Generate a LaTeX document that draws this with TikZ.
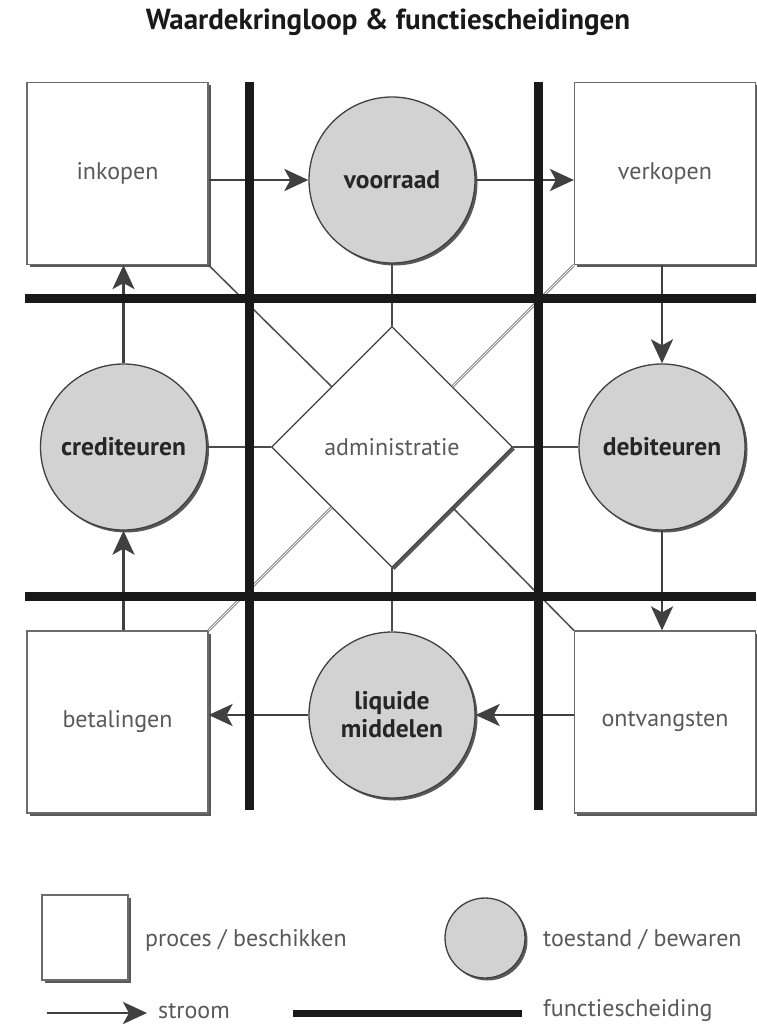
\documentclass[tikz,border=0pt]{standalone}
\usepackage{fontspec}
\setmainfont{PT Sans}
\usepackage{xcolor}
\usepackage{tikz}
\usetikzlibrary{arrows.meta,shapes.geometric,shadows,calc}

\definecolor{lijngrijs}{HTML}{404040}
\definecolor{vulgrijs}{HTML}{D2D2D2}
\definecolor{tekstgrijs}{HTML}{595959}

\begin{document}
\begin{tikzpicture}[x=1pt,y=-1pt]
\tikzstyle{every node}+=[inner sep=0pt]
\tikzstyle{schaduw}=[drop shadow={shadow xshift=2.5pt,shadow yshift=-2.5pt,fill=black!65,opacity=1}]
\tikzstyle{proces}=[draw=gray!85!black,line width=1.2pt,fill=white,minimum width=181pt,minimum height=182pt,text=tekstgrijs,font=\fontsize{24}{28}\selectfont,schaduw]
\tikzstyle{toestand}=[circle,draw=lijngrijs,line width=1.3pt,fill=vulgrijs,minimum size=166pt,align=center,text=black!85,font=\fontsize{25.5}{28}\selectfont\bfseries,schaduw]
\tikzstyle{adminstijl}=[diamond,draw=lijngrijs,line width=1.2pt,fill=white,minimum width=241pt,minimum height=241pt,text=tekstgrijs,font=\fontsize{24}{28}\selectfont,schaduw]
\tikzstyle{stroom}=[draw=lijngrijs,line width=2.8pt,-{Stealth[length=24pt,width=22pt,inset=6pt]}]
\tikzstyle{verband}=[draw=black!70,line width=1.5pt]
\tikzstyle{dubbel}=[draw=black!55,line width=.8pt,double=white,double distance=1pt]
\tikzstyle{scheiding}=[draw=black!90,line width=9pt]
\tikzstyle{legtekst}=[text=tekstgrijs,font=\fontsize{24}{28}\selectfont,anchor=west]
\useasboundingbox (0,0) rectangle (756,1024);

% titel
\node[font=\fontsize{29}{34}\selectfont\bfseries,text=black!90] (titel) at (388,22) {Waardekringloop \& functiescheidingen};

% processen
\node[proces] (inkopen) at (117.5,173.5) {inkopen};
\node[proces] (verkopen) at (665,173.5) {verkopen};
\node[proces] (betalingen) at (117.5,722) {betalingen};
\node[proces] (ontvangsten) at (665,722) {ontvangsten};

% toestanden
\node[toestand] (voorraad) at (392,180) {voorraad};
\node[toestand] (crediteuren) at (123.5,447) {crediteuren};
\node[toestand] (debiteuren) at (662,447) {debiteuren};
\node[toestand] (liquide) at (392,715) {liquide\\middelen};

\node[adminstijl] (adm) at (392,447) {administratie};

% verbindingen met administratie
\draw[verband] (voorraad.south) -- (adm.north);
\draw[verband] (liquide.north) -- (adm.south);
\draw[verband] (crediteuren.east) -- (adm.west);
\draw[verband] (debiteuren.west) -- (adm.east);
\draw[verband] (inkopen.south east) -- ($(adm.north)!.5!(adm.west)$);
\draw[verband] (ontvangsten.north west) -- ($(adm.south)!.5!(adm.east)$);
\draw[dubbel] (verkopen.south west) -- ($(adm.north)!.5!(adm.east)$);
\draw[dubbel] (betalingen.north east) -- ($(adm.south)!.5!(adm.west)$);

% stromen
\draw[stroom] (inkopen.east |- voorraad.west) -- (voorraad.west);
\draw[stroom] (voorraad.east) -- (voorraad.east -| verkopen.west);
\draw[stroom] (debiteuren.north |- verkopen.south) -- (debiteuren.north);
\draw[stroom] (debiteuren.south) -- (debiteuren.south |- ontvangsten.north);
\draw[stroom] (liquide.east -| ontvangsten.west) -- (liquide.east);
\draw[stroom] (liquide.west) -- (liquide.west -| betalingen.east);
\draw[stroom] (crediteuren.south |- betalingen.north) -- (crediteuren.south);
\draw[stroom] (crediteuren.north) -- (crediteuren.north |- inkopen.south);

% functiescheidingen
\draw[scheiding] (249,82) -- (249,810);
\draw[scheiding] (538,82) -- (538,810);
\draw[scheiding] (25,298) -- (756,298);
\draw[scheiding] (25,596) -- (756,596);

% legenda
\node[proces,minimum width=86pt,minimum height=85pt] (legproces) at (85,937.5) {};
\node[legtekst] (legprocestekst) at (145,940) {proces / beschikken};
\node[toestand,minimum size=80pt] (legtoestand) at (485,938) {};
\node[legtekst] (legtoestandtekst) at (543,940) {toestand / bewaren};
\coordinate (stroomA) at (47,1013);
\coordinate (stroomB) at (147,1013);
\draw[stroom] (stroomA) -- (stroomB);
\node[legtekst] (legstroom) at (158,1011) {stroom};
\coordinate (scheidA) at (293,1013);
\coordinate (scheidB) at (522,1013);
\draw[scheiding,line width=7pt] (scheidA) -- (scheidB);
\node[legtekst] (legscheiding) at (543,1011) {functiescheiding};
\end{tikzpicture}
\end{document}
